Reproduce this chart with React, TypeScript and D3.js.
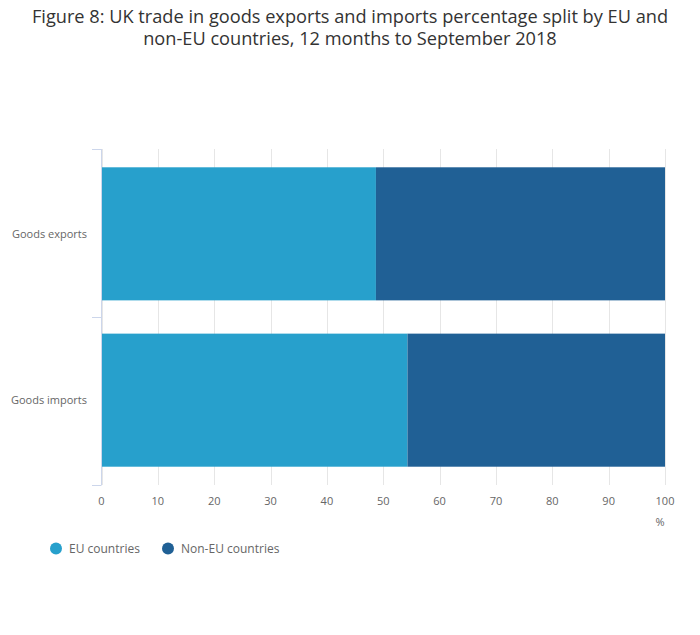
import * as React from "react";
import * as d3 from "d3";

const categories = ["Goods exports", "Goods imports"];
const seriesNames = ["EU countries", "Non-EU countries"];
const euValues = [48.7, 54.3];
const nonEuValues = [51.3, 45.7];
const xTicks = [0, 10, 20, 30, 40, 50, 60, 70, 80, 90, 100];
const colors = ["#27a0cc", "#206095"];

const width = 700;
const height = 635;
const margin = { top: 149, right: 35, bottom: 150, left: 101.5 };
const font = "'Open Sans', sans-serif";

const App: React.FunctionComponent = () => {
  const x = d3
    .scaleLinear()
    .domain([0, 100])
    .range([margin.left, width - margin.right]);
  const y = d3
    .scaleBand()
    .domain(categories)
    .range([margin.top, height - margin.bottom])
    .paddingInner(0.2)
    .paddingOuter(0.11);
  const bandOuter = d3
    .scaleBand()
    .domain(categories)
    .range([margin.top, height - margin.bottom]);

  const rows = categories.map((c, i) => ({
    cat: c,
    parts: [
      { start: 0, end: euValues[i], color: colors[0] },
      { start: euValues[i], end: euValues[i] + nonEuValues[i], color: colors[1] }
    ]
  }));

  const y0 = margin.top;
  const y1 = height - margin.bottom;
  const boundaries = [...categories.map(c => bandOuter(c) as number), y1];

  return (
    <svg
      width={width}
      height={height}
      style={{ position: "absolute", left: 0, top: 0, fontFamily: font }}
    >
      <rect width={width} height={height} fill="#fff" />
      <text x={350} y={23} textAnchor="middle" fontSize={18.2} fill="#333">
        Figure 8: UK trade in goods exports and imports percentage split by EU and
      </text>
      <text x={350} y={45} textAnchor="middle" fontSize={18.2} fill="#333">
        non-EU countries, 12 months to September 2018
      </text>

      {xTicks.map(t => (
        <g key={t}>
          <line
            x1={Math.round(x(t)) + 0.5}
            x2={Math.round(x(t)) + 0.5}
            y1={y0}
            y2={y1}
            stroke="#e6e6e6"
          />
          <text
            x={x(t)}
            y={505}
            textAnchor="middle"
            fontSize={11}
            fill="#666"
          >
            {t}
          </text>
        </g>
      ))}
      <text x={660} y={526} textAnchor="middle" fontSize={11} fill="#666">
        %
      </text>

      {rows.map(r => (
        <g key={r.cat}>
          {r.parts.map((p, j) => (
            <rect
              key={j}
              x={x(p.start)}
              width={x(p.end) - x(p.start)}
              y={y(r.cat)}
              height={y.bandwidth()}
              fill={p.color}
            />
          ))}
          <text
            x={87}
            y={(y(r.cat) as number) + y.bandwidth() / 2 + 4}
            textAnchor="end"
            fontSize={11}
            fill="#666"
          >
            {r.cat}
          </text>
        </g>
      ))}

      <line x1={101.5} x2={101.5} y1={y0} y2={y1} stroke="#ccd6eb" />
      {boundaries.map((b, i) => (
        <line
          key={i}
          x1={92}
          x2={101.5}
          y1={Math.round(b) + 0.5}
          y2={Math.round(b) + 0.5}
          stroke="#ccd6eb"
        />
      ))}

      {seriesNames.map((s, i) => {
        const lx = i === 0 ? 56 : 168;
        return (
          <g key={s}>
            <circle cx={lx} cy={548.5} r={6} fill={colors[i]} />
            <text x={lx + 13} y={553} fontSize={12} fill="#666">
              {s}
            </text>
          </g>
        );
      })}
    </svg>
  );
};

export default App;
